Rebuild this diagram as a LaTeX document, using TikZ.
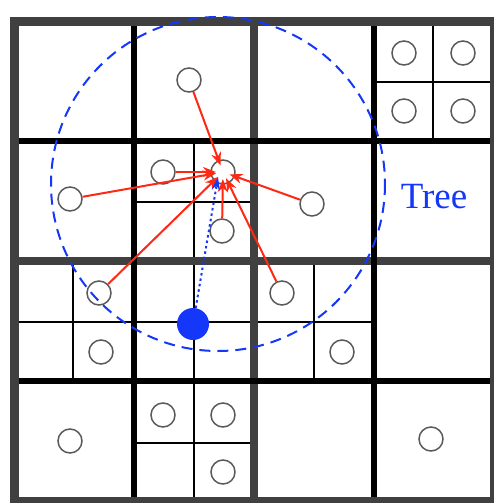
\documentclass[tikz,border=0pt]{standalone}
\usepackage{fontspec}
\setmainfont{Liberation Serif}
\usetikzlibrary{arrows.meta}
\definecolor{framegray}{RGB}{64,64,64}
\definecolor{ptgray}{RGB}{90,90,90}
\definecolor{myblue}{RGB}{20,55,250}
\definecolor{myred}{RGB}{255,40,20}
\tikzset{
  framebox/.style={draw=framegray,line width=9pt},
  midline/.style={draw=framegray,line width=8pt},
  quarterline/.style={draw=black,line width=6pt},
  thinline/.style={draw=black,line width=1.8pt},
  pt/.style={circle,draw=ptgray,line width=1.5pt,minimum size=24pt,inner sep=0pt},
  query/.style={circle,fill=myblue,minimum size=32pt,inner sep=0pt},
  redarrow/.style={draw=myred,line width=2pt,-{Stealth[length=13pt,width=10pt]},shorten >=7pt},
  bluearrow/.style={draw=myblue,line width=2pt,dash pattern=on 2.5pt off 3pt,-{Stealth[length=13pt,width=8pt]}},
  rangecircle/.style={draw=myblue,line width=2pt,dash pattern=on 11pt off 7pt},
  label/.style={text=myblue,font=\fontsize{37}{42}\selectfont,inner sep=0pt}
}
\begin{document}
\begin{tikzpicture}[x=1pt,y=-1pt]
\useasboundingbox (0,0) rectangle (493,503);
\fill[white] (0,0) rectangle (493,503);
% thin subdivisions
\draw[thinline] (194,141) -- (194,261) (134,202) -- (254,202);
\draw[thinline] (433,22) -- (433,141) (374,82) -- (494,82);
\draw[thinline] (73,261) -- (73,381) (14,322) -- (134,322);
\draw[thinline] (194,261) -- (194,381) (134,322) -- (254,322);
\draw[thinline] (314,261) -- (314,381) (254,322) -- (374,322);
\draw[thinline] (194,381) -- (194,501) (134,443) -- (254,443);
% middle lines
\draw[midline] (254,22) -- (254,501) (14,261) -- (494,261);
% quarter lines
\draw[quarterline] (134,22) -- (134,501) (374,22) -- (374,501);
\draw[quarterline] (14,141) -- (494,141) (14,381) -- (494,381);
% frame
\draw[framebox] (14,22) rectangle (494,501);
% points
\node[pt] (p1) at (189,80) {};
\node[pt] (p2) at (163,172) {};
\node[pt] (t) at (223,172) {};
\node[pt] (p3) at (70,199) {};
\node[pt] (p4) at (222,231) {};
\node[pt] (p5) at (312,204) {};
\node[pt] (q1) at (404,53) {};
\node[pt] (q2) at (463,53) {};
\node[pt] (q3) at (404,111) {};
\node[pt] (q4) at (463,111) {};
\node[pt] (p6) at (99,293) {};
\node[pt] (r1) at (101,352) {};
\node[pt] (p7) at (282,293) {};
\node[pt] (r2) at (342,352) {};
\node[pt] (s1) at (70,441) {};
\node[pt] (s2) at (163,415) {};
\node[pt] (s3) at (223,415) {};
\node[pt] (s4) at (223,472) {};
\node[pt] (s5) at (431,439) {};
% range circle
\coordinate (rc) at (218,184);
\draw[rangecircle] (rc) circle[radius=167];
% query point
\node[query] (b) at (193,324) {};
\coordinate (bt) at (218,177);
% arrows
\draw[redarrow] (p1) -- (t.center);
\draw[redarrow] (p2) -- (t.center);
\draw[redarrow] (p3) -- (t.center);
\draw[redarrow] (p6) -- (t.center);
\draw[redarrow] (p4) -- (t.center);
\draw[redarrow] (p7) -- (t.center);
\draw[redarrow] (p5) -- (t.center);
\draw[bluearrow] (b) -- (bt);
% label
\node[label] (tree) at (434,197) {Tree};
\end{tikzpicture}
\end{document}
